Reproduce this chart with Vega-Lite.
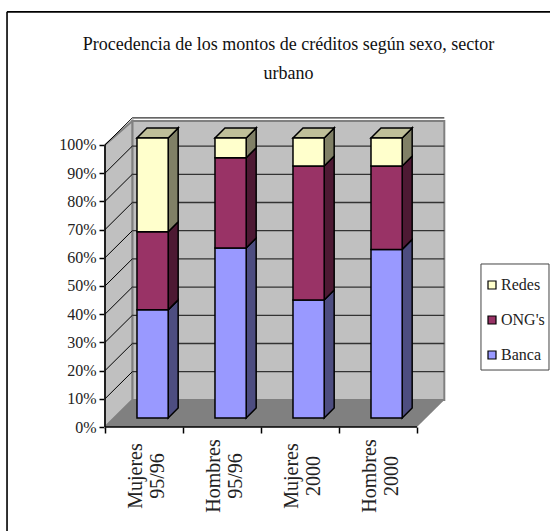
{
  "$schema": "https://vega.github.io/schema/vega-lite/v6.json",
  "width": 339,
  "height": 306,
  "autosize": "none",
  "padding": {"left": 105, "top": 121, "right": 106, "bottom": 104},
  "background": "white",
  "config": {"view": {"stroke": null}, "font": "Liberation Serif"},
  "title": {
    "text": ["Procedencia de los montos de créditos según sexo, sector", "urbano"],
    "font": "Liberation Serif",
    "fontSize": 18,
    "fontWeight": "normal",
    "color": "#111111",
    "anchor": "middle",
    "lineHeight": 29,
    "dx": 14,
    "offset": -72
  },
  "datasets": {
    "creditos": [
      {"grupo": "Mujeres 95/96", "serie": "Banca", "valor": 38.6},
      {"grupo": "Mujeres 95/96", "serie": "ONG's", "valor": 27.9},
      {"grupo": "Mujeres 95/96", "serie": "Redes", "valor": 33.5},
      {"grupo": "Hombres 95/96", "serie": "Banca", "valor": 60.7},
      {"grupo": "Hombres 95/96", "serie": "ONG's", "valor": 32.2},
      {"grupo": "Hombres 95/96", "serie": "Redes", "valor": 7.1},
      {"grupo": "Mujeres 2000", "serie": "Banca", "valor": 42.1},
      {"grupo": "Mujeres 2000", "serie": "ONG's", "valor": 47.9},
      {"grupo": "Mujeres 2000", "serie": "Redes", "valor": 10},
      {"grupo": "Hombres 2000", "serie": "Banca", "valor": 60.2},
      {"grupo": "Hombres 2000", "serie": "ONG's", "valor": 29.8},
      {"grupo": "Hombres 2000", "serie": "Redes", "valor": 10}
    ],
    "marcas": [
      {"pct": 0}, {"pct": 10}, {"pct": 20}, {"pct": 30}, {"pct": 40}, {"pct": 50},
      {"pct": 60}, {"pct": 70}, {"pct": 80}, {"pct": 90}, {"pct": 100}
    ]
  },
  "layer": [
    {
      "description": "Back wall, carries both axes",
      "data": {"values": [{"a": 0}]},
      "mark": {"type": "rect", "fill": "#C0C0C0", "stroke": "#808080", "strokeWidth": 2},
      "encoding": {
        "x": {
          "datum": 0.35,
          "type": "quantitative",
          "scale": {"domain": [0, 4.346], "nice": false, "zero": false},
          "axis": {"values": [0, 1, 2, 3, 4], "labels": false, "domain": false, "title": null, "grid": false, "tickSize": 6, "tickColor": "#000000", "tickWidth": 1.5}
        },
        "x2": {"datum": 4.35},
        "y": {
          "datum": 9.6,
          "type": "quantitative",
          "scale": {"domain": [0, 108.5], "nice": false, "zero": false},
          "axis": {"values": [0, 10, 20, 30, 40, 50, 60, 70, 80, 90, 100], "tickCount": 11, "labelExpr": "datum.value + '%'", "labelOverlap": false, "domain": false, "title": null, "grid": false, "tickSize": 6, "tickColor": "#000000", "tickWidth": 1.5, "labelFont": "Liberation Serif", "labelFontSize": 16, "labelColor": "#222222", "labelPadding": 3}
        },
        "y2": {"datum": 108.5}
      }
    },
    {
      "description": "Left wall",
      "data": {"values": [{"t": 0}, {"t": 1}]},
      "transform": [
        {"calculate": "datum.t * 0.35", "as": "xp"},
        {"calculate": "datum.t * 9.6", "as": "y0"},
        {"calculate": "100 + datum.t * 8.5", "as": "y1"}
      ],
      "mark": {"type": "area", "fill": "#C0C0C0", "stroke": "#808080", "strokeWidth": 2},
      "encoding": {
        "x": {"field": "xp", "type": "quantitative", "axis": {"title": null}},
        "y": {"field": "y0", "type": "quantitative", "axis": {"title": null}},
        "y2": {"field": "y1"}
      }
    },
    {
      "description": "Floor",
      "data": {"values": [{"t": 0}, {"t": 1}]},
      "transform": [
        {"calculate": "datum.t * 0.35", "as": "x0"},
        {"calculate": "4 + datum.t * 0.35", "as": "x1"},
        {"calculate": "datum.t * 9.6", "as": "yp"}
      ],
      "mark": {"type": "area", "orient": "horizontal", "fill": "#808080"},
      "encoding": {
        "y": {"field": "yp", "type": "quantitative", "axis": {"title": null}},
        "x": {"field": "x0", "type": "quantitative", "axis": {"title": null}},
        "x2": {"field": "x1"}
      }
    },
    {
      "description": "Gridlines on the back wall",
      "data": {"name": "marcas"},
      "transform": [
        {"filter": "datum.pct > 0"},
        {"calculate": "datum.pct + 9.6", "as": "yp"}
      ],
      "mark": {"type": "rule", "stroke": "#333333", "strokeWidth": 1.3},
      "encoding": {
        "x": {"datum": 0.35, "type": "quantitative", "axis": {"title": null}},
        "x2": {"datum": 4.35},
        "y": {"field": "yp", "type": "quantitative", "axis": {"title": null}}
      }
    },
    {
      "description": "Gridlines on the left wall",
      "data": {"name": "marcas"},
      "transform": [
        {"filter": "datum.pct > 0"},
        {"calculate": "datum.pct + 9.6", "as": "yb"}
      ],
      "mark": {"type": "rule", "stroke": "#000000", "strokeWidth": 1},
      "encoding": {
        "x": {"datum": 0, "type": "quantitative", "axis": {"title": null}},
        "x2": {"datum": 0.35},
        "y": {"field": "pct", "type": "quantitative", "axis": {"title": null}},
        "y2": {"field": "yb"}
      }
    },
    {
      "description": "Front edges of the value and category axes",
      "data": {"values": [{"a": 0}]},
      "mark": {"type": "rule", "stroke": "#000000", "strokeWidth": 1.5},
      "encoding": {
        "x": {"datum": 0, "type": "quantitative", "axis": {"title": null}},
        "y": {"datum": 0, "type": "quantitative", "axis": {"title": null}},
        "y2": {"datum": 100}
      }
    },
    {
      "data": {"values": [{"a": 0}]},
      "mark": {"type": "rule", "stroke": "#000000", "strokeWidth": 1.5},
      "encoding": {
        "x": {"datum": 0, "type": "quantitative", "axis": {"title": null}},
        "x2": {"datum": 4},
        "y": {"datum": 0, "type": "quantitative", "axis": {"title": null}}
      }
    },
    {
      "description": "Right-hand faces of the stacked columns",
      "data": {"name": "creditos"},
      "transform": [
        {"stack": "valor", "groupby": ["grupo"], "sort": [{"field": "serie", "order": "ascending"}], "as": ["p0", "p1"]},
        {"calculate": "indexof(['Mujeres 95/96','Hombres 95/96','Mujeres 2000','Hombres 2000'], datum.grupo)", "as": "i"},
        {"calculate": "[0, 1]", "as": "t"},
        {"flatten": ["t"]},
        {"calculate": "datum.i + 0.81 + datum.t * 0.128", "as": "xp"},
        {"calculate": "3.2 + 0.993 * datum.p0 + datum.t * 3.55", "as": "y0"},
        {"calculate": "3.2 + 0.993 * datum.p1 + datum.t * 3.55", "as": "y1"}
      ],
      "mark": {"type": "area", "stroke": "#000000", "strokeWidth": 1.5},
      "encoding": {
        "x": {"field": "xp", "type": "quantitative", "axis": {"title": null}},
        "y": {"field": "y0", "type": "quantitative", "axis": {"title": null}},
        "y2": {"field": "y1"},
        "fill": {
          "field": "serie",
          "type": "nominal",
          "legend": null,
          "scale": {"domain": ["Banca", "ONG's", "Redes"], "range": ["#4D4D80", "#4D1933", "#808066"]}
        },
        "detail": {"field": "grupo"}
      }
    },
    {
      "description": "Top faces of the columns",
      "data": {"name": "creditos"},
      "transform": [
        {"stack": "valor", "groupby": ["grupo"], "sort": [{"field": "serie", "order": "ascending"}], "as": ["p0", "p1"]},
        {"filter": "datum.serie === 'Redes'"},
        {"calculate": "indexof(['Mujeres 95/96','Hombres 95/96','Mujeres 2000','Hombres 2000'], datum.grupo)", "as": "i"},
        {"calculate": "[0, 1]", "as": "t"},
        {"flatten": ["t"]},
        {"calculate": "datum.i + 0.41 + datum.t * 0.128", "as": "x0"},
        {"calculate": "datum.i + 0.81 + datum.t * 0.128", "as": "x1"},
        {"calculate": "3.2 + 0.993 * datum.p1 + datum.t * 3.55", "as": "yp"}
      ],
      "mark": {"type": "area", "orient": "horizontal", "fill": "#BFBF99", "stroke": "#000000", "strokeWidth": 1.5},
      "encoding": {
        "y": {"field": "yp", "type": "quantitative", "axis": {"title": null}},
        "x": {"field": "x0", "type": "quantitative", "axis": {"title": null}},
        "x2": {"field": "x1"},
        "detail": {"field": "grupo"}
      }
    },
    {
      "description": "Front faces of the stacked columns, source of the legend",
      "data": {"name": "creditos"},
      "transform": [
        {"stack": "valor", "groupby": ["grupo"], "sort": [{"field": "serie", "order": "ascending"}], "as": ["p0", "p1"]},
        {"calculate": "indexof(['Mujeres 95/96','Hombres 95/96','Mujeres 2000','Hombres 2000'], datum.grupo)", "as": "i"},
        {"calculate": "datum.i + 0.41", "as": "x0"},
        {"calculate": "datum.i + 0.81", "as": "x1"},
        {"calculate": "3.2 + 0.993 * datum.p0", "as": "y0"},
        {"calculate": "3.2 + 0.993 * datum.p1", "as": "y1"}
      ],
      "mark": {"type": "rect", "stroke": "#000000", "strokeWidth": 1.5},
      "encoding": {
        "x": {"field": "x0", "type": "quantitative", "axis": {"title": null}},
        "x2": {"field": "x1"},
        "y": {"field": "y0", "type": "quantitative", "axis": {"title": null}},
        "y2": {"field": "y1"},
        "color": {
          "field": "serie",
          "type": "nominal",
          "scale": {"domain": ["Redes", "ONG's", "Banca"], "range": ["#FFFFCC", "#993366", "#9999FF"]},
          "legend": {
            "title": null,
            "orient": "none",
            "legendX": 379,
            "legendY": 156,
            "padding": 0,
            "symbolType": "square",
            "symbolSize": 64,
            "symbolStrokeColor": "#000000",
            "symbolStrokeWidth": 1.2,
            "labelFont": "Liberation Serif",
            "labelFontSize": 16,
            "labelColor": "#222222",
            "labelOffset": 1,
            "rowPadding": 19
          }
        }
      }
    },
    {
      "description": "Category labels read bottom to top",
      "data": {"name": "creditos"},
      "transform": [
        {"filter": "datum.serie === 'Banca'"},
        {"calculate": "indexof(['Mujeres 95/96','Hombres 95/96','Mujeres 2000','Hombres 2000'], datum.grupo) + 0.5", "as": "xc"}
      ],
      "mark": {
        "type": "text",
        "angle": 270,
        "lineBreak": " ",
        "lineHeight": 22,
        "font": "Liberation Serif",
        "fontSize": 20,
        "color": "#222222",
        "align": "center",
        "baseline": "middle",
        "xOffset": -8,
        "yOffset": 49
      },
      "encoding": {
        "x": {"field": "xc", "type": "quantitative", "axis": {"title": null}},
        "y": {"datum": 0, "type": "quantitative", "axis": {"title": null}},
        "text": {"field": "grupo", "type": "nominal"}
      }
    },
    {
      "description": "Legend frame",
      "data": {"values": [{"a": 0}]},
      "mark": {"type": "rect", "fill": "#FFFFFF", "stroke": "#444444", "strokeWidth": 1},
      "encoding": {
        "x": {"datum": 4.82, "type": "quantitative", "axis": {"title": null}},
        "x2": {"datum": 5.692},
        "y": {"datum": 57.8, "type": "quantitative", "axis": {"title": null}},
        "y2": {"datum": 20.2}
      }
    },
    {
      "description": "Outer frame, top and left sides",
      "data": {"values": [{"a": 0}]},
      "mark": {"type": "rule", "stroke": "#000000", "strokeWidth": 1.6},
      "encoding": {
        "x": {"datum": -1.256, "type": "quantitative", "axis": {"title": null}},
        "x2": {"datum": 5.71},
        "y": {"datum": 147.2, "type": "quantitative", "axis": {"title": null}}
      }
    },
    {
      "data": {"values": [{"a": 0}]},
      "mark": {"type": "rule", "stroke": "#000000", "strokeWidth": 1.6},
      "encoding": {
        "x": {"datum": -1.256, "type": "quantitative", "axis": {"title": null}},
        "y": {"datum": 147.2, "type": "quantitative", "axis": {"title": null}},
        "y2": {"datum": -37}
      }
    }
  ]
}
